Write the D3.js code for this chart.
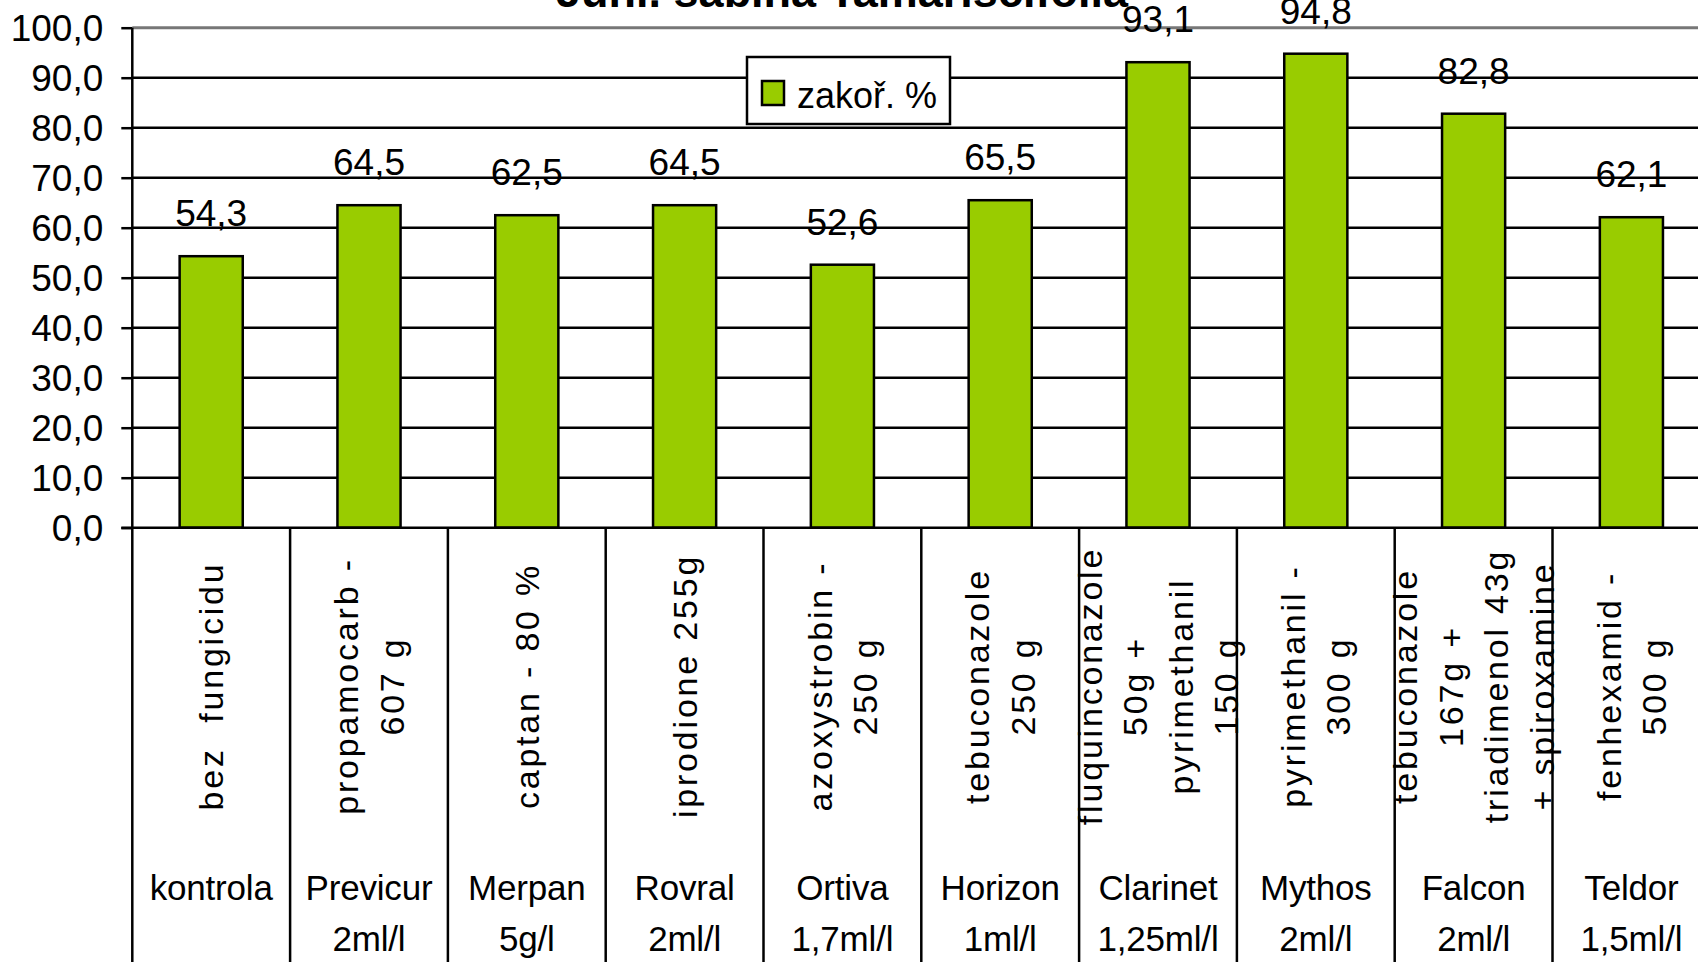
<!DOCTYPE html>
<html>
<head>
<meta charset="utf-8">
<script src="https://cdn.jsdelivr.net/npm/d3@7"></script>
<style>
    body { margin: 0; background: #fff; }
    text { font-family: "Liberation Sans", Arial, sans-serif; fill: #000; }
    .title { font-size: 45px; font-weight: bold; }
    .value { font-size: 37px; }
    .legend { font-size: 36px; }
    .ingredient { font-size: 34px; letter-spacing: 2.8px; white-space: pre; }
    .brand { font-size: 35px; letter-spacing: -0.2px; }
</style>
</head>
<body>
<div id="chart"></div>
<script>
var width = 1698;
var height = 962;

// data
var brands = ['kontrola', 'Previcur', 'Merpan', 'Rovral', 'Ortiva', 'Horizon', 'Clarinet', 'Mythos', 'Falcon', 'Teldor'];
var doses = ['', '2ml/l', '5g/l', '2ml/l', '1,7ml/l', '1ml/l', '1,25ml/l', '2ml/l', '2ml/l', '1,5ml/l'];
var ingredients = [
    ['bez  fungicidu'],
    ['propamocarb -', '607 g'],
    ['captan - 80 %'],
    ['iprodione 255g'],
    ['azoxystrobin -', '250 g'],
    ['tebuconazole', '250 g'],
    ['fluquinconazole', '50g +', 'pyrimethanil', '150 g'],
    ['pyrimethanil -', '300 g'],
    ['tebuconazole', '167g +', 'triadimenol 43g', '+ spiroxamine'],
    ['fenhexamid -', '500 g']
];
var values = [54.3, 64.5, 62.5, 64.5, 52.6, 65.5, 93.1, 94.8, 82.8, 62.1];
var yTicks = [0, 10, 20, 30, 40, 50, 60, 70, 80, 90, 100];
var seriesName = 'zakoř. %';
var title = 'Juni. sabina Tamariscifolia';

var barColor = '#99cc00';
var plotLeft = 132.3;
var plotRight = 1710.3;
var plotTop = 27.7;
var plotBottom = 527.7;

var cz = d3.formatLocale({ decimal: ',', thousands: ' ', grouping: [3], currency: ['', ''] });
var fmt = cz.format('.1f');

var svg = d3.select('#chart')
    .append('svg')
    .attr('width', width)
    .attr('height', height)

var y = d3.scaleLinear()
    .domain([0, 100])
    .range([plotBottom, plotTop]);

// one slot per category, bars take the middle 40 %
var xCat = d3.scaleBand()
    .domain(brands)
    .range([plotLeft, plotRight])
    .padding(0);

var xBar = d3.scaleBand()
    .domain(brands)
    .range([plotLeft, plotRight])
    .paddingInner(0.6)
    .paddingOuter(0.3);

svg.append('text')
    .text(title)
    .attr('class', 'title')
    .attr('x', 842)
    .attr('y', 7)
    .attr('text-anchor', 'middle')

// gridlines
svg.selectAll('.grid')
    .data(yTicks.filter(function (d) { return d > 0; }))
    .enter().append('line')
    .attr('x1', plotLeft)
    .attr('x2', width)
    .attr('y1', function (d) { return y(d); })
    .attr('y2', function (d) { return y(d); })
    .attr('stroke', function (d) { return d == 100 ? '#777' : '#000'; })
    .attr('stroke-width', function (d) { return d == 100 ? 3 : 2.5; })

// y axis
var yAxis = d3.axisLeft(y)
    .tickValues(yTicks)
    .tickFormat(fmt)
    .tickSize(11)
    .tickPadding(18);

var ga = svg.append('g')
    .attr('transform', 'translate(' + plotLeft + ',0)')
    .call(yAxis);
ga.select('.domain').remove();
ga.selectAll('.tick line').attr('stroke', '#000').attr('stroke-width', 2.5);
ga.selectAll('.tick text')
    .attr('dy', '0.35em')
    .style('font-family', '"Liberation Sans", Arial, sans-serif')
    .style('font-size', '37px')
    .attr('fill', '#000');

svg.append('line')
    .attr('x1', plotLeft)
    .attr('x2', plotLeft)
    .attr('y1', plotTop)
    .attr('y2', height)
    .attr('stroke', '#000')
    .attr('stroke-width', 2.5)

// bars
svg.selectAll('.bar')
    .data(values)
    .enter().append('rect')
    .attr('x', function (d, i) { return xBar(brands[i]); })
    .attr('width', xBar.bandwidth())
    .attr('y', function (d) { return y(d); })
    .attr('height', function (d) { return plotBottom - y(d); })
    .attr('fill', barColor)
    .attr('stroke', '#000')
    .attr('stroke-width', 2.5)

svg.selectAll('.value')
    .data(values)
    .enter().append('text')
    .attr('class', 'value')
    .text(function (d) { return fmt(d); })
    .attr('x', function (d, i) { return xBar(brands[i]) + xBar.bandwidth() / 2; })
    .attr('y', function (d) { return y(d) - 30; })
    .attr('text-anchor', 'middle')

// zero line
svg.append('line')
    .attr('x1', plotLeft - 11)
    .attr('x2', width)
    .attr('y1', y(0))
    .attr('y2', y(0))
    .attr('stroke', '#000')
    .attr('stroke-width', 2.5)

// category table below the axis
svg.selectAll('.divider')
    .data(brands.slice(1))
    .enter().append('line')
    .attr('x1', function (d) { return xCat(d); })
    .attr('x2', function (d) { return xCat(d); })
    .attr('y1', y(0))
    .attr('y2', height)
    .attr('stroke', '#000')
    .attr('stroke-width', 2.5)

var lineGap = 45.5;
var labelMid = 686;

brands.forEach(function (b, i) {
    var cx = xCat(b) + xCat.bandwidth() / 2;
    var lines = ingredients[i];
    var g = svg.append('g')
        .attr('transform', 'translate(' + cx + ',' + labelMid + '),rotate(-90)');
    lines.forEach(function (t, j) {
        g.append('text')
            .text(t)
            .attr('class', 'ingredient')
            .attr('x', 0)
            .attr('y', (j - (lines.length - 1) / 2) * lineGap)
            .attr('dy', '0.35em')
            .attr('text-anchor', 'middle')
    });

    svg.append('text')
        .text(b)
        .attr('class', 'brand')
        .attr('x', cx)
        .attr('y', 900)
        .attr('text-anchor', 'middle')
    svg.append('text')
        .text(doses[i])
        .attr('class', 'brand')
        .attr('x', cx)
        .attr('y', 951)
        .attr('text-anchor', 'middle')
});

// legend
var lg = svg.append('g')
    .attr('transform', 'translate(747,57)');
lg.append('rect')
    .attr('width', 203)
    .attr('height', 67)
    .attr('fill', '#fff')
    .attr('stroke', '#000')
    .attr('stroke-width', 2.5)
lg.append('rect')
    .attr('x', 15)
    .attr('y', 24)
    .attr('width', 22)
    .attr('height', 24)
    .attr('fill', barColor)
    .attr('stroke', '#000')
    .attr('stroke-width', 2.5)
lg.append('text')
    .text(seriesName)
    .attr('class', 'legend')
    .attr('x', 50)
    .attr('y', 51)
</script>
</body>
</html>
